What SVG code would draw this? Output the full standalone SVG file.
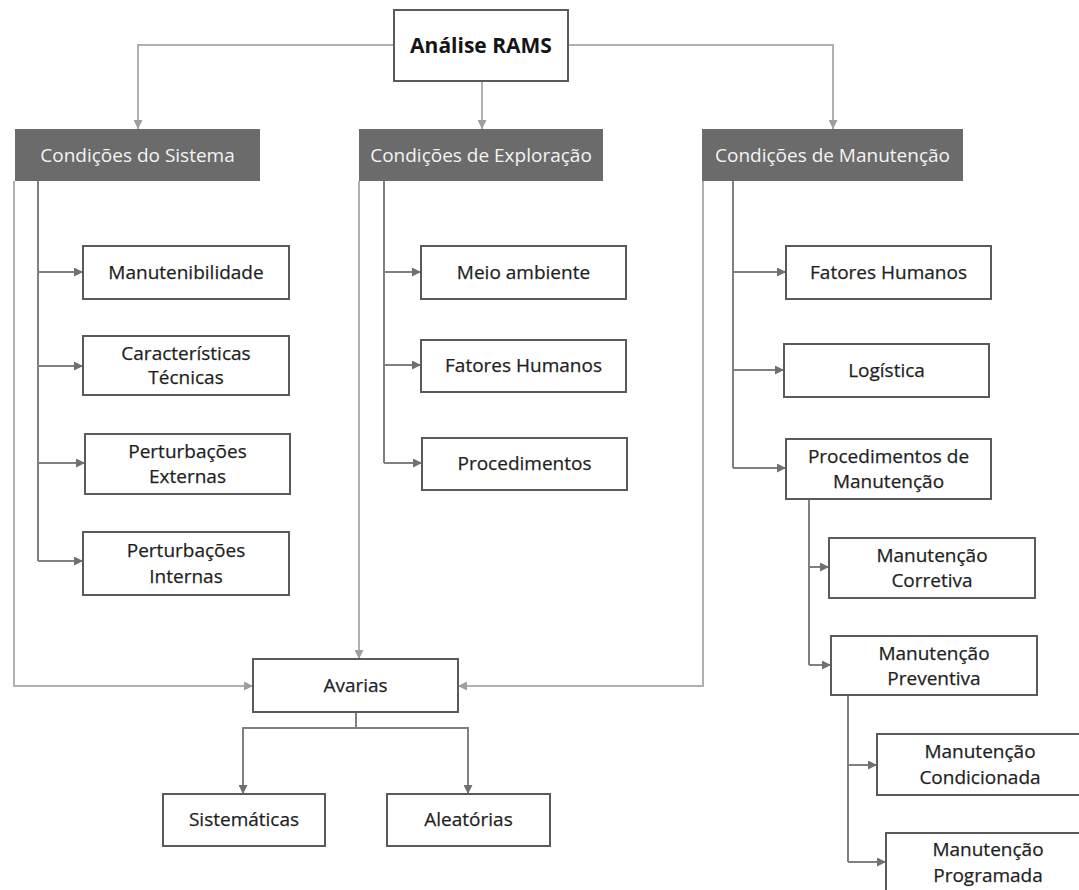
<svg xmlns="http://www.w3.org/2000/svg" width="1079" height="890" viewBox="0 0 1079 890">
  <defs>
    <marker id="arrLight" markerWidth="9" markerHeight="9" refX="9" refY="4.5" orient="auto" markerUnits="userSpaceOnUse">
      <path d="M0,0 L9,4.5 L0,9 z" fill="#9e9e9e"/>
    </marker>
    <marker id="arrDark" markerWidth="9" markerHeight="9" refX="9" refY="4.5" orient="auto" markerUnits="userSpaceOnUse">
      <path d="M0,0 L9,4.5 L0,9 z" fill="#707070"/>
    </marker>
    <style>
      .box { fill: #ffffff; stroke: #5a5a5a; stroke-width: 2; }
      .head { fill: #6b6b6b; }
      .t { font-family: "Open Sans", "Noto Sans", sans-serif; font-size: 19px; fill: #1f1f1f; stroke: #1f1f1f; stroke-width: 0.25; text-anchor: middle; }
      .th { font-family: "Open Sans", "Noto Sans", sans-serif; font-size: 19px; fill: #f4f4f4; text-anchor: middle; }
      .tb { font-family: "Open Sans", "Noto Sans", sans-serif; font-size: 21px; font-weight: bold; fill: #151515; text-anchor: middle; }
      .light { fill: none; stroke: #b0b0b0; stroke-width: 2; }
      .dark { fill: none; stroke: #808080; stroke-width: 2; }
      .la { marker-end: url(#arrLight); }
      .da { marker-end: url(#arrDark); }
    </style>
  </defs>
  <rect width="1079" height="890" fill="#ffffff"/>

  <!-- connectors -->
  <g id="connectors">
    <!-- from the root to the three condition headers -->
    <path class="light la" d="M394,45 H138 V129"/>
    <path class="light la" d="M482,81 V129"/>
    <path class="light la" d="M568,45 H833 V129"/>

    <!-- outer rails feeding Avarias -->
    <path class="light la" d="M14,181 V686 H253"/>
    <path class="light la" d="M359,181 V659"/>
    <path class="light la" d="M703,181 V686 H458"/>

    <!-- Condições do Sistema branches -->
    <path class="dark" d="M38,181 V561"/>
    <path class="dark da" d="M38,272 H83"/>
    <path class="dark da" d="M38,366 H83"/>
    <path class="dark da" d="M38,463 H85"/>
    <path class="dark da" d="M38,561 H83"/>

    <!-- Condições de Exploração branches -->
    <path class="dark" d="M384,181 V463"/>
    <path class="dark da" d="M384,272 H421"/>
    <path class="dark da" d="M384,365 H421"/>
    <path class="dark da" d="M384,463 H422"/>

    <!-- Condições de Manutenção branches -->
    <path class="dark" d="M733,181 V468"/>
    <path class="dark da" d="M733,272 H786"/>
    <path class="dark da" d="M733,370 H784"/>
    <path class="dark da" d="M733,468 H786"/>

    <!-- Procedimentos de Manutenção branches -->
    <path class="dark" d="M809,499 V665"/>
    <path class="dark da" d="M809,567 H829"/>
    <path class="dark da" d="M809,665 H831"/>

    <!-- Manutenção Preventiva branches -->
    <path class="dark" d="M848,695 V862"/>
    <path class="dark da" d="M848,765 H877"/>
    <path class="dark da" d="M848,862 H886"/>

    <!-- Avarias split -->
    <path class="dark" d="M356,712 V728"/>
    <path class="dark da" d="M356,728 H243 V794"/>
    <path class="dark da" d="M356,728 H468 V794"/>
  </g>

  <!-- root -->
  <g id="analise-rams">
    <rect class="box" x="394" y="10" width="174" height="71"/>
    <text class="tb" x="481" y="53">Análise RAMS</text>
  </g>

  <!-- headers -->
  <g id="cond-sistema">
    <rect class="head" x="15" y="129" width="245" height="52"/>
    <text class="th" x="137.5" y="162">Condições do Sistema</text>
  </g>
  <g id="cond-exploracao">
    <rect class="head" x="359" y="129" width="244" height="52"/>
    <text class="th" x="481" y="162">Condições de Exploração</text>
  </g>
  <g id="cond-manutencao">
    <rect class="head" x="702" y="129" width="261" height="52"/>
    <text class="th" x="832.5" y="162">Condições de Manutenção</text>
  </g>

  <!-- system conditions -->
  <g id="manutenibilidade">
    <rect class="box" x="83" y="246" width="206" height="53"/>
    <text class="t" x="186" y="279">Manutenibilidade</text>
  </g>
  <g id="caracteristicas-tecnicas">
    <rect class="box" x="83" y="336" width="206" height="59"/>
    <text class="t" x="186" y="360">Características</text>
    <text class="t" x="186" y="384">Técnicas</text>
  </g>
  <g id="perturbacoes-externas">
    <rect class="box" x="85" y="434" width="205" height="60"/>
    <text class="t" x="187.5" y="458">Perturbações</text>
    <text class="t" x="187.5" y="483">Externas</text>
  </g>
  <g id="perturbacoes-internas">
    <rect class="box" x="83" y="532" width="206" height="63"/>
    <text class="t" x="186" y="557">Perturbações</text>
    <text class="t" x="186" y="583">Internas</text>
  </g>

  <!-- operating conditions -->
  <g id="meio-ambiente">
    <rect class="box" x="421" y="246" width="205" height="53"/>
    <text class="t" x="523.5" y="279">Meio ambiente</text>
  </g>
  <g id="fatores-humanos-exp">
    <rect class="box" x="421" y="340" width="205" height="52"/>
    <text class="t" x="523.5" y="372">Fatores Humanos</text>
  </g>
  <g id="procedimentos">
    <rect class="box" x="422" y="438" width="205" height="52"/>
    <text class="t" x="524.5" y="470">Procedimentos</text>
  </g>

  <!-- maintenance conditions -->
  <g id="fatores-humanos-man">
    <rect class="box" x="786" y="246" width="205" height="53"/>
    <text class="t" x="888.5" y="279">Fatores Humanos</text>
  </g>
  <g id="logistica">
    <rect class="box" x="784" y="344" width="205" height="53"/>
    <text class="t" x="886.5" y="377">Logística</text>
  </g>
  <g id="procedimentos-manutencao">
    <rect class="box" x="786" y="439" width="205" height="60"/>
    <text class="t" x="888.5" y="463">Procedimentos de</text>
    <text class="t" x="888.5" y="488">Manutenção</text>
  </g>
  <g id="manutencao-corretiva">
    <rect class="box" x="829" y="538" width="206" height="60"/>
    <text class="t" x="932" y="562">Manutenção</text>
    <text class="t" x="932" y="587">Corretiva</text>
  </g>
  <g id="manutencao-preventiva">
    <rect class="box" x="831" y="636" width="206" height="59"/>
    <text class="t" x="934" y="660">Manutenção</text>
    <text class="t" x="934" y="685">Preventiva</text>
  </g>
  <g id="manutencao-condicionada">
    <rect class="box" x="877" y="734" width="205" height="61"/>
    <text class="t" x="980" y="758">Manutenção</text>
    <text class="t" x="980" y="784">Condicionada</text>
  </g>
  <g id="manutencao-programada">
    <rect class="box" x="886" y="833" width="205" height="64"/>
    <text class="t" x="988" y="856">Manutenção</text>
    <text class="t" x="988" y="882">Programada</text>
  </g>

  <!-- failures -->
  <g id="avarias">
    <rect class="box" x="253" y="659" width="205" height="53"/>
    <text class="t" x="355.5" y="692">Avarias</text>
  </g>
  <g id="sistematicas">
    <rect class="box" x="163" y="794" width="162" height="52"/>
    <text class="t" x="244" y="826">Sistemáticas</text>
  </g>
  <g id="aleatorias">
    <rect class="box" x="387" y="794" width="163" height="52"/>
    <text class="t" x="468.5" y="826">Aleatórias</text>
  </g>
</svg>
